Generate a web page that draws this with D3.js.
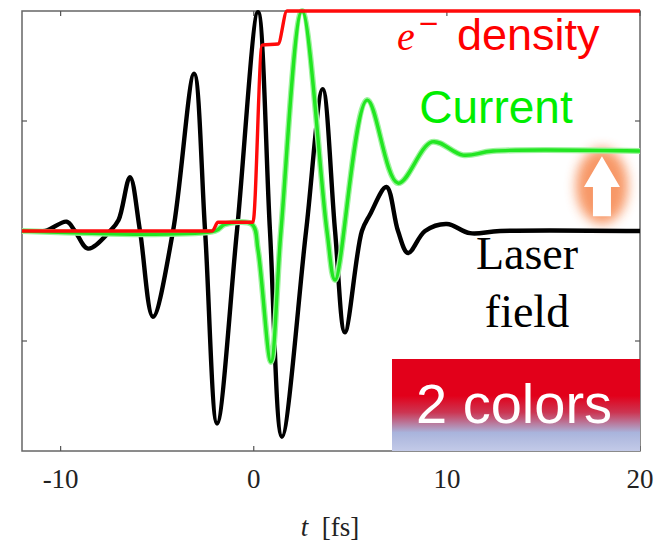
<!DOCTYPE html>
<html>
<head>
<meta charset="utf-8">
<script src="https://cdn.jsdelivr.net/npm/d3@7"></script>
<style>
  html, body { margin: 0; padding: 0; background: #fff; }
  svg { display: block; }
</style>
</head>
<body>
<div id="chart"></div>
<script>
// Laser field (black): time [fs] and field value
const laserT = [-12, -10.8, -9.69, -9.26, -8.58, -7.44, -7.0, -6.41, -5.89, -5.22, -4.18, -3.09, -2.52, -1.9, -0.87, 0.22, 0.84, 1.46, 2.71, 3.57, 4.21, 4.72, 5.6, 6.02, 6.87, 7.47, 7.99, 8.87, 10.0, 11.2, 12.76, 20];
const laserV = [0, 0, 0.085, 0, -0.16, 0, 0.1, 0.49, 0, -0.78, 0, 1.43, 0, -1.75, 0, 1.99, 0, -1.87, 0, 1.29, 0, -0.92, 0, 0.15, 0.4, 0, -0.2, 0, 0.064, -0.02, 0, 0];

// Current (green)
const currentT = [-12, -2.0, -1.5, -0.09, 0.22, 0.89, 1.41, 2.5, 3.79, 4.21, 5.87, 7.47, 9.23, 10.83, 12.4, 20];
const currentV = [0, 0, 0.06, 0.06, -0.17, -1.19, 0, 2.0, 0, -0.445, 1.19, 0.435, 0.81, 0.69, 0.727, 0.727];

// Electron density (red), steps
const densityT = [-12, -2.15, -1.85, -0.04, 0.43, 1.26, 1.72, 20];
const densityV = [0, 0, 0.08, 0.08, 1.69, 1.7, 2.0, 2.0];

const xTicks = [-10, 0, 10, 20];
const yTicks = [-1, 0, 1];

const width = 664, height = 546;
const margin = { left: 22, right: 24, top: 11, bottom: 95 };

const x = d3.scaleLinear().domain([-12, 20]).range([margin.left, width - margin.right]);
const y = d3.scaleLinear().domain([-2, 2]).range([height - margin.bottom, margin.top]);

const svg = d3.select('#chart').append('svg')
  .attr('width', width)
  .attr('height', height);

const defs = svg.append('defs');
defs.append('filter').attr('id', 'glow')
  .attr('x', '-100%').attr('y', '-100%').attr('width', '300%').attr('height', '300%')
  .append('feGaussianBlur').attr('stdDeviation', 6);

const grad = defs.append('linearGradient').attr('id', 'boxgrad')
  .attr('x1', 0).attr('y1', 0).attr('x2', 0).attr('y2', 1);
grad.append('stop').attr('offset', '0%').attr('stop-color', '#e2001a');
grad.append('stop').attr('offset', '40%').attr('stop-color', '#e2001a');
grad.append('stop').attr('offset', '58%').attr('stop-color', '#cc3552');
grad.append('stop').attr('offset', '80%').attr('stop-color', '#a9b4dc');
grad.append('stop').attr('offset', '100%').attr('stop-color', '#c3cae8');

const line = (ts, vs, curve) => d3.line()
  .x(i => x(ts[i]))
  .y(i => y(vs[i]))
  .curve(curve)(d3.range(ts.length));

// frame
svg.append('rect')
  .attr('x', x(-12)).attr('y', y(2))
  .attr('width', x(20) - x(-12)).attr('height', y(-2) - y(2))
  .attr('fill', 'none').attr('stroke', '#666').attr('stroke-width', 1.5);

// ticks, pointing inward on all four sides
const tickLen = 5;
svg.append('g').selectAll('line.xb').data(xTicks).join('line')
  .attr('x1', d => x(d)).attr('x2', d => x(d))
  .attr('y1', y(-2)).attr('y2', y(-2) - tickLen)
  .attr('stroke', '#555').attr('stroke-width', 1.2);
svg.append('g').selectAll('line.xt').data(xTicks).join('line')
  .attr('x1', d => x(d)).attr('x2', d => x(d))
  .attr('y1', y(2)).attr('y2', y(2) + tickLen)
  .attr('stroke', '#555').attr('stroke-width', 1.2);
svg.append('g').selectAll('line.yl').data(yTicks).join('line')
  .attr('x1', x(-12)).attr('x2', x(-12) + tickLen)
  .attr('y1', d => y(d)).attr('y2', d => y(d))
  .attr('stroke', '#555').attr('stroke-width', 1.2);
svg.append('g').selectAll('line.yr').data(yTicks).join('line')
  .attr('x1', x(20)).attr('x2', x(20) - tickLen)
  .attr('y1', d => y(d)).attr('y2', d => y(d))
  .attr('stroke', '#555').attr('stroke-width', 1.2);

// tick labels
svg.append('g').selectAll('text').data(xTicks).join('text')
  .attr('x', d => x(d))
  .attr('y', 488)
  .attr('text-anchor', 'middle')
  .style('font-family', '"Liberation Serif", "DejaVu Serif", serif')
  .style('font-size', '27px')
  .attr('fill', '#222')
  .text(d => d);

const xl = svg.append('text')
  .attr('x', 330).attr('y', 536)
  .attr('text-anchor', 'middle')
  .style('font-family', '"Liberation Serif", "DejaVu Serif", serif')
  .style('font-size', '27px')
  .attr('fill', '#222');
xl.append('tspan').style('font-style', 'italic').text('t');
xl.append('tspan').text('\u2002[fs]');

// glow + arrow
const ax = x(18.03);
svg.append('ellipse')
  .attr('cx', ax).attr('cy', y(0.41))
  .attr('rx', 26).attr('ry', 38)
  .attr('fill', '#f7935f')
  .attr('opacity', 0.95)
  .attr('filter', 'url(#glow)');

// curves
svg.append('path')
  .attr('d', line(laserT, laserV, d3.curveCatmullRom.alpha(0.5)))
  .attr('fill', 'none').attr('stroke', '#000').attr('stroke-width', 4.4)
  .attr('stroke-linejoin', 'round');

svg.append('path')
  .attr('d', line(currentT, currentV, d3.curveCatmullRom.alpha(0.5)))
  .attr('fill', 'none').attr('stroke', '#9ef29e').attr('stroke-width', 6)
  .attr('stroke-linejoin', 'round');
svg.append('path')
  .attr('d', line(currentT, currentV, d3.curveCatmullRom.alpha(0.5)))
  .attr('fill', 'none').attr('stroke', '#22e622').attr('stroke-width', 3.4)
  .attr('stroke-linejoin', 'round');

svg.append('path')
  .attr('d', line(densityT, densityV, d3.curveMonotoneX))
  .attr('fill', 'none').attr('stroke', '#ff0a0a').attr('stroke-width', 3.4)
  .attr('stroke-linejoin', 'round');

// white arrow
const tipY = y(0.68), headY = y(0.4), baseY = y(0.135);
svg.append('path')
  .attr('d', `M${ax},${tipY} L${ax + 18},${headY} L${ax + 9},${headY} L${ax + 9},${baseY}
              L${ax - 9},${baseY} L${ax - 9},${headY} L${ax - 18},${headY} Z`)
  .attr('fill', '#fff');

// labels
const dens = svg.append('text')
  .attr('x', 397).attr('y', 50)
  .attr('fill', '#ff0000');
dens.append('tspan')
  .style('font-family', '"Liberation Serif", "DejaVu Serif", serif')
  .style('font-style', 'italic')
  .style('font-size', '40px')
  .text('e');
dens.append('tspan')
  .attr('dx', 3).attr('dy', -18)
  .style('font-family', '"DejaVu Sans", sans-serif')
  .style('font-size', '26px')
  .text('\u2212');
dens.append('tspan')
  .attr('x', 457).attr('dy', 18)
  .style('font-family', '"Liberation Sans", Arial, sans-serif')
  .style('font-size', '45px')
  .text('density');

svg.append('text')
  .attr('x', 496).attr('y', 123)
  .attr('text-anchor', 'middle')
  .style('font-family', '"Liberation Sans", Arial, sans-serif')
  .style('font-size', '46px')
  .attr('fill', '#00ee00')
  .text('Current');

['Laser', 'field'].forEach((w, i) => {
  svg.append('text')
    .attr('x', 527).attr('y', 269 + i * 58)
    .attr('text-anchor', 'middle')
    .style('font-family', '"Liberation Serif", "DejaVu Serif", serif')
    .style('font-size', '46px')
    .attr('fill', '#000')
    .text(w);
});

// "2 colors" box
svg.append('rect')
  .attr('x', 392).attr('y', 359)
  .attr('width', x(20) - 392).attr('height', y(-2) - 359)
  .attr('fill', 'url(#boxgrad)');
svg.append('text')
  .attr('x', 514).attr('y', 423)
  .attr('text-anchor', 'middle')
  .style('font-family', '"Liberation Sans", Arial, sans-serif')
  .style('font-size', '56px')
  .attr('fill', '#fff')
  .text('2 colors');
</script>
</body>
</html>
